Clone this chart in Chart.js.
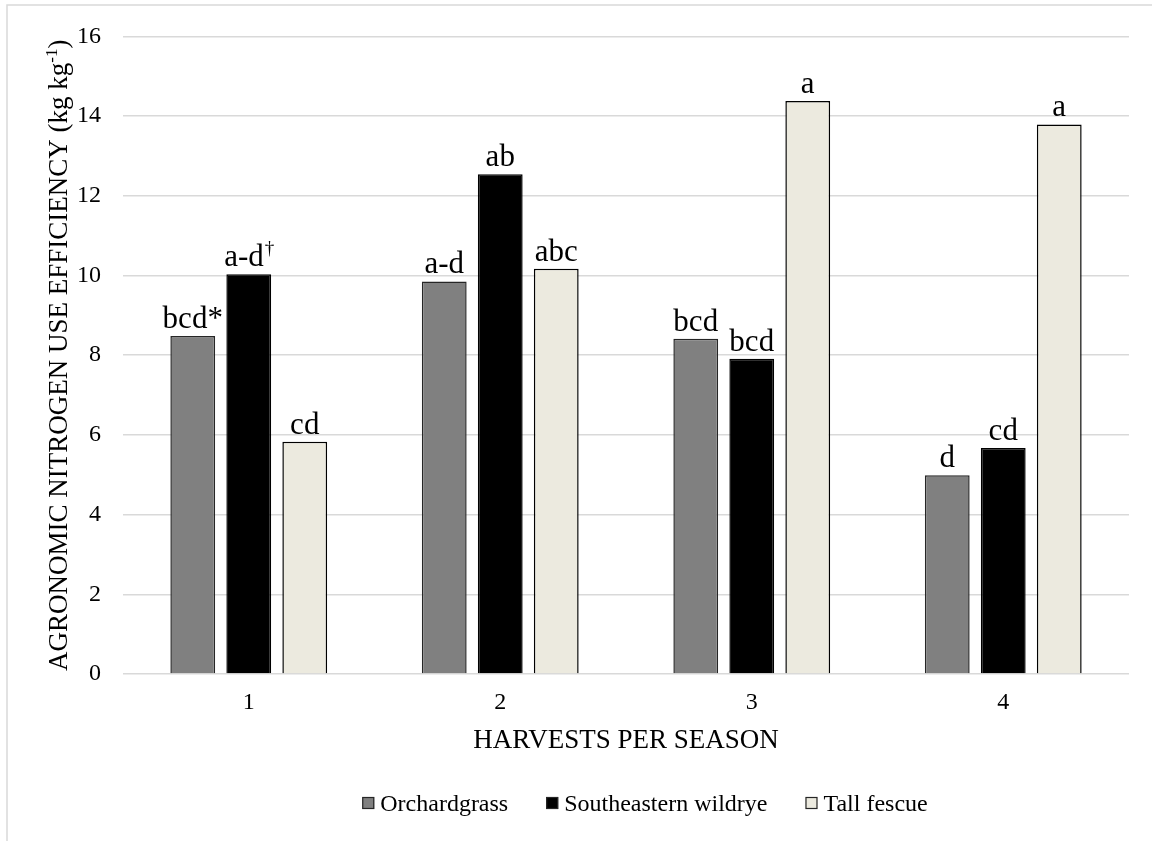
<!DOCTYPE html>
<html>
<head>
<meta charset="utf-8">
<title>Agronomic nitrogen use efficiency by harvests per season</title>
<script src="https://cdn.jsdelivr.net/npm/chart.js@4.4.1/dist/chart.umd.min.js"></script>
<style>
  html, body { margin: 0; padding: 0; background: #ffffff; }
  canvas { display: block; }
</style>
</head>
<body>
<canvas id="chart" width="1152" height="841"></canvas>
<script>
// Harvests per season (x categories)
const categories = ['1', '2', '3', '4'];

// Agronomic N use efficiency, kg kg-1
const orchardgrass = [8.48, 9.85, 8.41, 4.99];
const wildrye      = [10.03, 12.54, 7.91, 5.67];
const tallFescue   = [5.83, 10.17, 14.38, 13.79];

// Mean separation letters shown above each bar ('†' is set as a superscript)
const orchardgrassLetters = ['bcd*', 'a-d', 'bcd', 'd'];
const wildryeLetters      = ['a-d†', 'ab', 'bcd', 'cd'];
const tallFescueLetters   = ['cd', 'abc', 'a', 'a'];

// Series names
const seriesNames = ['Orchardgrass', 'Southeastern wildrye', 'Tall fescue'];

// Value axis range
const yMin = 0, yMax = 16, yStep = 2;

const SERIF = '"Liberation Serif", "Times New Roman", serif';

// Frame, axis titles, bar letters and legend
const decorations = {
  id: 'decorations',
  beforeDraw(chart) {
    const ctx = chart.ctx;
    ctx.save();
    ctx.strokeStyle = '#d9d9d9';
    ctx.lineWidth = 1.5;
    ctx.strokeRect(7, 5, 1400, 1000);
    ctx.restore();
  },
  afterDatasetsDraw(chart) {
    const ctx = chart.ctx;
    const area = chart.chartArea;
    ctx.save();
    ctx.fillStyle = '#000000';

    // letters above bars
    const labelSize = 31;
    chart.data.datasets.forEach((ds, di) => {
      const meta = chart.getDatasetMeta(di);
      meta.data.forEach((bar, i) => {
        const text = ds.letters[i];
        const main = text.replace('†', '');
        const sup = text.length > main.length ? '†' : '';
        ctx.font = labelSize + 'px ' + SERIF;
        const wMain = ctx.measureText(main).width;
        ctx.font = Math.round(labelSize * 0.6) + 'px ' + SERIF;
        const wSup = sup ? ctx.measureText(sup).width : 0;
        const x0 = bar.x - (wMain + wSup) / 2;
        const base = bar.y - 8;
        ctx.textAlign = 'left';
        ctx.textBaseline = 'alphabetic';
        ctx.font = labelSize + 'px ' + SERIF;
        ctx.fillText(main, x0, base);
        if (sup) {
          ctx.font = Math.round(labelSize * 0.6) + 'px ' + SERIF;
          ctx.fillText(sup, x0 + wMain + 1, base - 12);
        }
      });
    });

    // x axis title
    ctx.font = '27px ' + SERIF;
    ctx.textAlign = 'center';
    ctx.textBaseline = 'alphabetic';
    ctx.fillText('HARVESTS PER SEASON', (area.left + area.right) / 2, 748);

    // y axis title with superscript exponent
    const titleSize = 27;
    const supSize = 17;
    const part1 = 'AGRONOMIC NITROGEN USE EFFICIENCY (kg kg';
    const part2 = '-1';
    const part3 = ')';
    ctx.font = titleSize + 'px ' + SERIF;
    const w1 = ctx.measureText(part1).width;
    const w3 = ctx.measureText(part3).width;
    ctx.font = supSize + 'px ' + SERIF;
    const w2 = ctx.measureText(part2).width;
    const total = w1 + w2 + w3;
    ctx.translate(67, (area.top + area.bottom) / 2);
    ctx.rotate(-Math.PI / 2);
    ctx.textAlign = 'left';
    let tx = -total / 2;
    ctx.font = titleSize + 'px ' + SERIF;
    ctx.fillText(part1, tx, 0);
    tx += w1;
    ctx.font = supSize + 'px ' + SERIF;
    ctx.fillText(part2, tx, -10);
    tx += w2;
    ctx.font = titleSize + 'px ' + SERIF;
    ctx.fillText(part3, tx, 0);
    ctx.restore();

    // legend
    ctx.save();
    const legendSize = 24;
    ctx.font = legendSize + 'px ' + SERIF;
    const box = 12, boxGap = 6, itemGap = 38;
    const widths = chart.data.datasets.map(ds => ctx.measureText(ds.label).width);
    const totalW = widths.reduce((s, w) => s + box + boxGap + w, 0) + itemGap * (widths.length - 1);
    let lx = 645 - totalW / 2;
    const baseY = 811;
    chart.data.datasets.forEach((ds, di) => {
      ctx.fillStyle = ds.backgroundColor;
      ctx.fillRect(lx, 797, box, box);
      ctx.strokeStyle = '#262626';
      ctx.lineWidth = 1.2;
      ctx.strokeRect(lx + 0.5, 797.5, box - 1, box - 1);
      ctx.fillStyle = '#000000';
      ctx.textAlign = 'left';
      ctx.textBaseline = 'alphabetic';
      ctx.fillText(ds.label, lx + box + boxGap, baseY);
      lx += box + boxGap + widths[di] + itemGap;
    });
    ctx.restore();
  }
};

new Chart(document.getElementById('chart'), {
  type: 'bar',
  data: {
    labels: categories,
    datasets: [
      {
        label: seriesNames[0],
        data: orchardgrass,
        letters: orchardgrassLetters,
        backgroundColor: '#808080',
        borderColor: '#262626',
        borderWidth: 1.5
      },
      {
        label: seriesNames[1],
        data: wildrye,
        letters: wildryeLetters,
        backgroundColor: '#000000',
        borderColor: '#000000',
        borderWidth: 1.5
      },
      {
        label: seriesNames[2],
        data: tallFescue,
        letters: tallFescueLetters,
        backgroundColor: '#eceadf',
        borderColor: '#000000',
        borderWidth: 1.5
      }
    ]
  },
  options: {
    responsive: false,
    animation: false,
    devicePixelRatio: 1,
    layout: { padding: { left: 0, top: 34, right: 23, bottom: 77 } },
    datasets: {
      bar: { categoryPercentage: 0.668, barPercentage: 0.8 }
    },
    plugins: {
      legend: { display: false },
      tooltip: { enabled: false },
      title: { display: false }
    },
    scales: {
      x: {
        grid: { display: false, drawTicks: false },
        border: { display: false },
        ticks: {
          color: '#000000',
          padding: 14,
          font: { family: SERIF, size: 24 }
        },
        afterFit(scale) { scale.height = 90; }
      },
      y: {
        min: yMin,
        max: yMax,
        grid: { color: '#d9d9d9', lineWidth: 1.5, drawTicks: false },
        border: { display: false },
        ticks: {
          stepSize: yStep,
          color: '#000000',
          padding: 22,
          font: { family: SERIF, size: 24 }
        },
        afterFit(scale) { scale.width = 123; }
      }
    }
  },
  plugins: [decorations]
});
</script>
</body>
</html>
